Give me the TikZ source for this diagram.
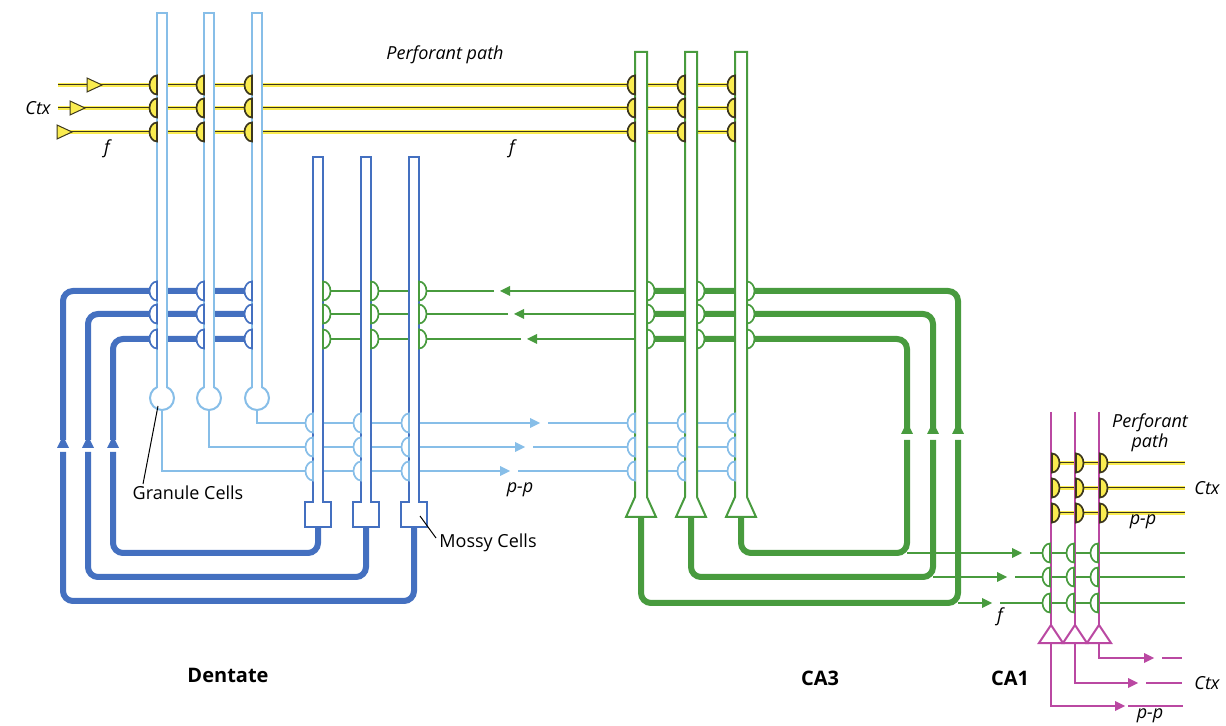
\documentclass[tikz,border=0pt]{standalone}
\usepackage{fontspec}
\setmainfont{Open Sans}
\definecolor{lb}{RGB}{135,190,232}
\definecolor{db}{RGB}{68,112,192}
\definecolor{gr}{RGB}{72,155,62}
\definecolor{ye}{RGB}{250,236,80}
\definecolor{yd}{RGB}{60,55,30}
\definecolor{mg}{RGB}{186,72,162}
\newcommand\boutL[4]{\filldraw[draw=#3,fill=#4,line width=0.85pt] (#1,#2-9.5) arc[start angle=270,end angle=90,x radius=7.5,y radius=9.5] -- cycle;}
\newcommand\boutR[4]{\filldraw[draw=#3,fill=#4,line width=0.85pt] (#1,#2-9.5) arc[start angle=270,end angle=450,x radius=7.5,y radius=9.5] -- cycle;}
\newcommand\arrR[3]{\fill[#3] (#1,#2) -- (#1-10,#2-5) -- (#1-10,#2+5) -- cycle;}
\newcommand\arrL[3]{\fill[#3] (#1,#2) -- (#1+10,#2-5) -- (#1+10,#2+5) -- cycle;}
\newcommand\arrU[3]{\fill[#3] (#1,#2) -- (#1-6,#2+12) -- (#1+6,#2+12) -- cycle;}
\newcommand\yline[3]{\draw[ye,line width=1.7pt] (#2,#1)--(#3,#1); \draw[yd,line width=0.45pt] (#2,#1-1)--(#3,#1-1);}
\newcommand\yarr[2]{\filldraw[draw=yd,fill=ye,line width=0.5pt] (#1,#2) -- (#1-15,#2-7) -- (#1-15,#2+7) -- cycle;}
\begin{document}
\begin{tikzpicture}[x=0.5pt,y=-0.5pt,
  thin axon/.style={line width=1pt},
  thick axon/.style={line width=3pt,rounded corners=5pt},
  lab/.style={font=\fontsize{9}{10}\selectfont\itshape,inner sep=0pt},
  reg/.style={font=\fontsize{9}{10}\selectfont,inner sep=0pt},
  big/.style={font=\fontsize{10}{12}\selectfont\bfseries,inner sep=0pt}]
\useasboundingbox (0,0) rectangle (1226,726);

% ---------- perforant path (top)
\foreach \y in {85,108,132} {\yline{\y}{58}{728}}
\yarr{102}{85}
\yarr{85}{108}
\yarr{72}{132}

% ---------- granule cell axons (light blue)
\draw[lb,thin axon] (257,410) |- (530,423); \draw[lb,thin axon] (548,423) -- (735,423); \arrR{540}{423}{lb}
\draw[lb,thin axon] (209,410) |- (515,447); \draw[lb,thin axon] (533,447) -- (735,447); \arrR{525}{447}{lb}
\draw[lb,thin axon] (162,410) |- (500,471); \draw[lb,thin axon] (518,471) -- (735,471); \arrR{510}{471}{lb}

% ---------- CA3 collaterals into dentate (thin green)
\draw[gr,thin axon] (635,291) -- (510,291); \draw[gr,thin axon] (494,291) -- (323,291); \arrL{500}{291}{gr}
\draw[gr,thin axon] (635,314) -- (524,314); \draw[gr,thin axon] (508,314) -- (323,314); \arrL{514}{314}{gr}
\draw[gr,thin axon] (635,339) -- (537,339); \draw[gr,thin axon] (521,339) -- (323,339); \arrL{527}{339}{gr}

% ---------- mossy cell axons (thick dark blue)
\draw[db,thick axon] (414,527) |- (63,601) -- (63,452);
\draw[db,thick axon] (63,440) |- (252,291);
\draw[db,thick axon] (366,527) |- (88,577) -- (88,452);
\draw[db,thick axon] (88,440) |- (252,314);
\draw[db,thick axon] (318,527) |- (113,553) -- (113,452);
\draw[db,thick axon] (113,440) |- (252,339);
\arrU{63}{436}{db} \arrU{88}{436}{db} \arrU{113}{436}{db}

% ---------- CA3 to CA1 (thin green)
\draw[gr,thin axon] (907,553) -- (1012,553); \draw[gr,thin axon] (1030,553) -- (1185,553); \arrR{1022}{553}{gr}
\draw[gr,thin axon] (933,577) -- (997,577); \draw[gr,thin axon] (1015,577) -- (1185,577); \arrR{1007}{577}{gr}
\draw[gr,thin axon] (958,603) -- (982,603); \draw[gr,thin axon] (1000,603) -- (1185,603); \arrR{992}{603}{gr}

% ---------- CA3 axons (thick green)
\draw[gr,thick axon] (641,517) |- (958,603) -- (958,440);
\draw[gr,thick axon] (958,428) |- (647,291);
\draw[gr,thick axon] (691,517) |- (933,577) -- (933,440);
\draw[gr,thick axon] (933,428) |- (647,314);
\draw[gr,thick axon] (741,517) |- (907,553) -- (907,440);
\draw[gr,thick axon] (907,428) |- (647,339);
\arrU{907}{422}{gr} \arrU{933}{422}{gr} \arrU{958}{422}{gr}

% ---------- CA1 perforant path (yellow)
\foreach \y in {463,488,513} {\yline{\y}{1051}{1185}}

% ---------- CA1 axons (magenta)
\draw[mg,thin axon] (1051,643) |- (1115,706); \draw[mg,thin axon] (1128,706) -- (1183,706); \arrR{1125}{706}{mg}
\draw[mg,thin axon] (1075,643) |- (1128,683); \draw[mg,thin axon] (1146,683) -- (1182,683); \arrR{1138}{683}{mg}
\draw[mg,thin axon] (1099,643) |- (1144,658); \draw[mg,thin axon] (1162,658) -- (1182,658); \arrR{1154}{658}{mg}

% ---------- granule cells
\foreach \x/\n in {162/g1,209/g2,257/g3} {
  \filldraw[draw=lb,fill=white,line width=1pt] (\x,398) circle[radius=12];
  \filldraw[draw=lb,fill=white,line width=1pt] (\x-5,388) -- (\x-5,13) -- (\x+5,13) -- (\x+5,388);
  \coordinate (\n) at (\x,398);
}
% ---------- mossy cells
\foreach \x/\n in {318/m1,366/m2,414/m3} {
  \filldraw[draw=db,fill=white,line width=1pt] (\x-5,502) -- (\x-5,157) -- (\x+5,157) -- (\x+5,502) -- (\x+13,502) -- (\x+13,527) -- (\x-13,527) -- (\x-13,502) -- cycle;
  \coordinate (\n) at (\x,514);
}
% ---------- CA3 pyramidal cells
\foreach \x in {641,691,741} {
  \filldraw[draw=gr,fill=white,line width=1pt] (\x-6,497) -- (\x-6,52) -- (\x+6,52) -- (\x+6,497) -- (\x+15,517) -- (\x-15,517) -- cycle;
}
% ---------- CA1 pyramidal cells
\foreach \x in {1051,1075,1099} {
  \draw[mg,line width=1pt] (\x,412) -- (\x,625);
  \filldraw[draw=mg,fill=white,line width=1pt] (\x,625) -- (\x-12,643) -- (\x+12,643) -- cycle;
}

% ---------- synapses
\foreach \y in {85,108,132} {\foreach \x in {157,204,252,635,685,735} {\boutL{\x}{\y}{yd}{ye}}}
\foreach \y in {291,314,339} {\foreach \x in {157,204,252} {\boutL{\x}{\y}{db}{white}}}
\foreach \y in {423,447,471} {\foreach \x in {313,361,409,635,685,735} {\boutL{\x}{\y}{lb}{white}}}
\foreach \y in {291,314,339} {\foreach \x in {323,371,419,647,697,747} {\boutR{\x}{\y}{gr}{white}}}
\foreach \y in {553,577,603} {\foreach \x in {1050,1074,1098} {\boutL{\x}{\y}{gr}{white}}}
\foreach \y in {463,488,513} {\foreach \x in {1052,1076,1100} {\boutR{\x}{\y}{yd}{ye}}}

% ---------- labels
\node[lab] (pp) at (445,55) {Perforant path};
\node[lab] (ctx1) at (38,108) {Ctx};
\node[lab] (f1) at (107,149) {f};
\node[lab] (f2) at (512,149) {f};
\node[lab] (pp1) at (520,490) {p-p};
\node[reg] (gc) at (188,493) {Granule Cells};
\node[reg] (mc) at (488,543) {Mossy Cells};
\draw[black,line width=0.5pt] (g1) ++(-4,8) -- (143,484);
\draw[black,line width=0.5pt] (420,516) -- (436,538);
\node[big] (dg) at (228,675) {Dentate};
\node[big] (ca3) at (820,678) {CA3};
\node[big] (ca1) at (1010,678) {CA1};
\node[lab] (pp2) at (1150,423) {Perforant};
\node[lab] (pp3) at (1150,443) {path};
\node[lab] (ctx2) at (1207,488) {Ctx};
\node[lab] (pp4) at (1143,522) {p-p};
\node[lab] (f3) at (1000,617) {f};
\node[lab] (ctx3) at (1207,683) {Ctx};
\node[lab] (pp5) at (1150,716) {p-p};
\end{tikzpicture}
\end{document}
